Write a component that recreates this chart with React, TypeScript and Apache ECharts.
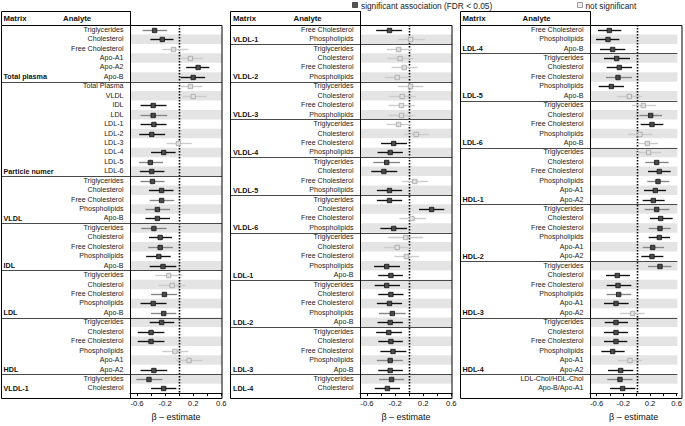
import React, { useEffect, useRef } from "react";
import * as echarts from "echarts";

// ---------- DATA ----------
const P1_ANALYTES = [
  "Triglycerides", "Cholesterol", "Free Cholesterol", "Apo-A1", "Apo-A2", "Apo-B",
  "Total Plasma", "VLDL", "IDL", "LDL", "LDL-1", "LDL-2", "LDL-3", "LDL-4", "LDL-5", "LDL-6",
  "Triglycerides", "Cholesterol", "Free Cholesterol", "Phospholipids", "Apo-B",
  "Triglycerides", "Cholesterol", "Free Cholesterol", "Phospholipids", "Apo-B",
  "Triglycerides", "Cholesterol", "Free Cholesterol", "Phospholipids", "Apo-B",
  "Triglycerides", "Cholesterol", "Free Cholesterol", "Phospholipids", "Apo-A1", "Apo-A2",
  "Triglycerides", "Cholesterol",
];
const P1_GROUPS: [string, number][] = [
  ["Total plasma", 6], ["Particle numer", 10], ["VLDL", 5], ["IDL", 5], ["LDL", 5], ["HDL", 6], ["VLDL-1", 2],
];
const P1_EST = [-0.35, -0.24, -0.08, 0.16, 0.27, 0.2, 0.16, 0.2, -0.37, -0.37, -0.36, -0.39, -0.01, -0.22, -0.41, -0.39, -0.38, -0.25, -0.25, -0.31, -0.31, -0.36, -0.27, -0.27, -0.29, -0.23, -0.15, -0.1, -0.21, -0.37, -0.22, -0.25, -0.4, -0.4, -0.06, 0.14, -0.36, -0.43, -0.22];
const P1_LO = [-0.52, -0.41, -0.24, 0.01, 0.1, 0.02, 0.02, 0.05, -0.55, -0.55, -0.55, -0.57, -0.18, -0.4, -0.57, -0.56, -0.55, -0.43, -0.42, -0.48, -0.48, -0.54, -0.43, -0.44, -0.47, -0.42, -0.34, -0.29, -0.4, -0.55, -0.4, -0.42, -0.59, -0.59, -0.24, -0.04, -0.55, -0.61, -0.4];
const P1_HI = [-0.17, -0.08, 0.13, 0.34, 0.43, 0.37, 0.33, 0.39, -0.18, -0.17, -0.18, -0.2, 0.18, -0.05, -0.23, -0.21, -0.21, -0.08, -0.07, -0.13, -0.13, -0.18, -0.1, -0.09, -0.12, -0.04, 0.05, 0.09, -0.03, -0.18, -0.04, -0.07, -0.21, -0.21, 0.13, 0.33, -0.17, -0.24, -0.04];
// b = significant (dark CI), g = significant (grey CI), n = not significant
const P1_SIG = ["g", "b", "n", "n", "b", "b", "n", "n", "b", "g", "b", "b", "n", "b", "g", "b", "g", "b", "g", "g", "b", "g", "b", "g", "b", "b", "n", "n", "g", "b", "g", "b", "b", "b", "n", "n", "b", "g", "b"];

const P2_ANALYTES = [
  "Free Cholesterol", "Phospholipids",
  "Triglycerides", "Cholesterol", "Free Cholesterol", "Phospholipids",
  "Triglycerides", "Cholesterol", "Free Cholesterol", "Phospholipids",
  "Triglycerides", "Cholesterol", "Free Cholesterol", "Phospholipids",
  "Triglycerides", "Cholesterol", "Free Cholesterol", "Phospholipids",
  "Triglycerides", "Cholesterol", "Free Cholesterol", "Phospholipids",
  "Triglycerides", "Cholesterol", "Free Cholesterol", "Phospholipids", "Apo-B",
  "Triglycerides", "Cholesterol", "Free Cholesterol", "Phospholipids", "Apo-B",
  "Triglycerides", "Cholesterol", "Free Cholesterol", "Phospholipids", "Apo-B",
  "Triglycerides", "Cholesterol",
];
const P2_GROUPS: [string, number][] = [
  ["VLDL-1", 2], ["VLDL-2", 4], ["VLDL-3", 4], ["VLDL-4", 4], ["VLDL-5", 4], ["VLDL-6", 4], ["LDL-1", 5], ["LDL-2", 5], ["LDL-3", 5], ["LDL-4", 2],
];
const P2_EST = [-0.28, 0.02, -0.15, -0.13, -0.07, -0.17, 0.02, -0.1, -0.11, -0.11, -0.15, 0.1, -0.22, -0.27, -0.32, -0.36, 0.08, -0.28, -0.28, 0.32, 0.04, -0.22, -0.05, -0.17, -0.04, -0.32, -0.26, -0.32, -0.26, -0.28, -0.24, -0.27, -0.29, -0.26, -0.23, -0.27, -0.27, -0.25, -0.31];
const P2_LO = [-0.47, -0.16, -0.32, -0.31, -0.25, -0.35, -0.16, -0.29, -0.29, -0.29, -0.32, -0.07, -0.4, -0.45, -0.51, -0.54, -0.1, -0.46, -0.46, 0.14, -0.14, -0.41, -0.3, -0.36, -0.21, -0.5, -0.44, -0.49, -0.44, -0.46, -0.43, -0.45, -0.47, -0.44, -0.41, -0.46, -0.44, -0.43, -0.49];
const P2_HI = [-0.1, 0.22, 0.03, 0.06, 0.12, 0.02, 0.2, 0.1, 0.08, 0.08, 0.03, 0.28, -0.03, -0.09, -0.13, -0.17, 0.27, -0.1, -0.1, 0.5, 0.24, -0.03, 0.2, 0.02, 0.14, -0.13, -0.09, -0.13, -0.08, -0.1, -0.05, -0.09, -0.1, -0.09, -0.04, -0.09, -0.09, -0.07, -0.13];
const P2_SIG = ["b", "n", "n", "n", "n", "n", "n", "n", "n", "n", "n", "n", "b", "b", "g", "b", "n", "b", "b", "b", "n", "b", "n", "n", "n", "b", "b", "b", "b", "b", "g", "b", "b", "b", "b", "g", "b", "g", "b"];

const P3_ANALYTES = [
  "Free Cholesterol", "Phospholipids", "Apo-B",
  "Triglycerides", "Cholesterol", "Free Cholesterol", "Phospholipids", "Apo-B",
  "Triglycerides", "Cholesterol", "Free Cholesterol", "Phospholipids", "Apo-B",
  "Triglycerides", "Cholesterol", "Free Cholesterol", "Phospholipids", "Apo-A1", "Apo-A2",
  "Triglycerides", "Cholesterol", "Free Cholesterol", "Phospholipids", "Apo-A1", "Apo-A2",
  "Triglycerides", "Cholesterol", "Free Cholesterol", "Phospholipids", "Apo-A1", "Apo-A2",
  "Triglycerides", "Cholesterol", "Free Cholesterol", "Phospholipids", "Apo-A1", "Apo-A2",
  "LDL-Chol/HDL-Chol", "Apo-B/Apo-A1",
];
const P3_GROUPS: [string, number][] = [
  ["LDL-4", 3], ["LDL-5", 5], ["LDL-6", 5], ["HDL-1", 6], ["HDL-2", 6], ["HDL-3", 6], ["HDL-4", 6], ["", 2],
];
const P3_EST = [-0.41, -0.43, -0.36, -0.3, -0.26, -0.28, -0.38, -0.11, 0.1, 0.21, 0.23, 0.05, 0.16, 0.18, 0.3, 0.34, 0.32, 0.28, 0.25, 0.3, 0.36, 0.35, 0.34, 0.24, 0.23, 0.35, -0.29, -0.28, -0.27, -0.31, -0.06, -0.31, -0.31, -0.31, -0.36, -0.1, -0.24, -0.25, -0.21];
const P3_LO = [-0.58, -0.61, -0.55, -0.49, -0.45, -0.46, -0.57, -0.3, -0.07, 0.04, 0.06, -0.13, -0.01, 0.0, 0.13, 0.17, 0.16, 0.11, 0.09, 0.12, 0.2, 0.18, 0.18, 0.09, 0.07, 0.17, -0.46, -0.45, -0.45, -0.49, -0.25, -0.48, -0.49, -0.49, -0.53, -0.28, -0.43, -0.44, -0.4];
const P3_HI = [-0.23, -0.26, -0.17, -0.1, -0.07, -0.07, -0.19, 0.08, 0.29, 0.38, 0.4, 0.24, 0.32, 0.37, 0.48, 0.51, 0.49, 0.44, 0.42, 0.49, 0.54, 0.51, 0.5, 0.41, 0.4, 0.52, -0.1, -0.08, -0.08, -0.12, 0.12, -0.13, -0.13, -0.14, -0.18, 0.08, -0.05, -0.06, -0.02];
const P3_SIG = ["b", "b", "b", "b", "b", "g", "b", "n", "n", "g", "b", "n", "n", "n", "g", "b", "g", "b", "b", "g", "b", "g", "b", "g", "b", "g", "b", "b", "g", "b", "n", "b", "b", "b", "b", "n", "b", "g", "b"];

const X_MIN = -0.7;
const X_MAX = 0.61;
const ZERO = 0;
const TICK_VALUES = [-0.6, -0.4, -0.2, 0, 0.2, 0.4, 0.6];
const LABEL_VALUES = [-0.6, -0.2, 0.2, 0.6];
const X_TITLE = "β – estimate";
const LEGEND_SIG = "significant association (FDR < 0.05)";
const LEGEND_NS = "not significant";
const SIG_CODES = ["n", "g", "b"];

// ---------- LAYOUT / STYLE ----------
const FONT = "'Liberation Sans', Arial, Helvetica, sans-serif";
const TOP = 25;
const HEIGHT = 373;
const GRID_W = 92;
const LAYOUT = [
  { tableLeft: 1.5, gridLeft: 130, matrixX: 3.5, analyteX: 63 },
  { tableLeft: 230.5, gridLeft: 360, matrixX: 233, analyteX: 293.5 },
  { tableLeft: 460.5, gridLeft: 590, matrixX: 462.5, analyteX: 522.5 },
];
const STATUS_STYLE: Record<string, { line: string; fill: string; stroke: string }> = {
  b: { line: "#111111", fill: "#4a4a4a", stroke: "#111111" },
  g: { line: "#858585", fill: "#4a4a4a", stroke: "#111111" },
  n: { line: "#cccccc", fill: "#e0e0e0", stroke: "#a3a3a3" },
};

const PANELS = [
  { analytes: P1_ANALYTES, groups: P1_GROUPS, est: P1_EST, lo: P1_LO, hi: P1_HI, sig: P1_SIG },
  { analytes: P2_ANALYTES, groups: P2_GROUPS, est: P2_EST, lo: P2_LO, hi: P2_HI, sig: P2_SIG },
  { analytes: P3_ANALYTES, groups: P3_GROUPS, est: P3_EST, lo: P3_LO, hi: P3_HI, sig: P3_SIG },
];

function buildOption() {
  const grid: any[] = [];
  const xAxis: any[] = [];
  const yAxis: any[] = [];
  const series: any[] = [];
  const graphic: any[] = [];

  PANELS.forEach((p, i) => {
    const L = LAYOUT[i];
    grid.push({ left: L.gridLeft, top: TOP, width: GRID_W, height: HEIGHT, show: false });

    xAxis.push({
      type: "value",
      gridIndex: i,
      min: X_MIN,
      max: X_MAX,
      splitLine: { show: false },
      axisLine: { show: true, lineStyle: { color: "#000", width: 1 } },
      axisTick: { show: true, customValues: TICK_VALUES, length: 3, lineStyle: { color: "#000" } },
      axisLabel: {
        customValues: LABEL_VALUES,
        fontSize: 7.7,
        color: "#111",
        margin: 6,
        fontFamily: FONT,
        formatter: (v: number) => v.toFixed(1),
      },
      name: X_TITLE,
      nameLocation: "middle",
      nameGap: 16,
      nameTextStyle: { fontSize: 9, color: "#111", fontFamily: FONT },
    });

    const groupLabels: string[] = [];
    const boundaries: number[] = [];
    let acc = 0;
    p.groups.forEach(([name, n], gi) => {
      for (let k = 0; k < n; k++) groupLabels.push(k === n - 1 ? name : "");
      acc += n;
      if (gi < p.groups.length - 1) boundaries.push(acc - 1);
    });

    const rowIds = p.analytes.map((_, k) => String(k));
    yAxis.push({
      type: "category",
      gridIndex: i,
      data: rowIds,
      inverse: true,
      axisLine: { show: false },
      axisTick: { show: false },
      splitLine: { show: false },
      axisLabel: {
        interval: 0,
        hideOverlap: false,
        fontSize: 7.1,
        color: "#222",
        margin: 6.5,
        fontFamily: FONT,
        formatter: (v: string) => p.analytes[Number(v)],
      },
    });
    yAxis.push({
      type: "category",
      gridIndex: i,
      data: rowIds,
      inverse: true,
      position: "left",
      axisLine: { show: false },
      axisTick: { show: false },
      splitLine: { show: false },
      axisLabel: {
        interval: 0,
        hideOverlap: false,
        align: "left",
        fontSize: 7.2,
        fontWeight: "bold",
        color: "#111",
        margin: L.gridLeft - L.matrixX,
        fontFamily: FONT,
        formatter: (v: string) => groupLabels[Number(v)],
      },
    });

    const yIdx = i * 2;
    const tableSpan = L.gridLeft - L.tableLeft;

    series.push({
      type: "custom",
      xAxisIndex: i,
      yAxisIndex: yIdx,
      silent: true,
      z: 1,
      data: p.analytes.map((_, k) => k).filter((k) => k % 2 === 1).map((k) => [ZERO, k]),
      encode: { x: 0, y: 1 },
      renderItem: (params: any, api: any) => {
        const cs = params.coordSys;
        const c = api.coord([ZERO, api.value(1)]);
        const h = api.size([0, 1])[1];
        return {
          type: "rect",
          shape: { x: cs.x, y: c[1] - h / 2, width: cs.width, height: h },
          style: { fill: "#e4e4e4" },
        };
      },
    });

    series.push({
      type: "custom",
      xAxisIndex: i,
      yAxisIndex: yIdx,
      silent: true,
      z: 2,
      data: [[ZERO, 0]],
      encode: { x: 0, y: 1 },
      renderItem: (params: any, api: any) => {
        const cs = params.coordSys;
        const x = Math.round(api.coord([api.value(0), 0])[0]) + 0.5;
        return {
          type: "line",
          shape: { x1: x, y1: cs.y, x2: x, y2: cs.y + cs.height },
          style: { stroke: "#000", lineWidth: 1.6, lineDash: [1.4, 1.6] },
        };
      },
    });

    series.push({
      type: "custom",
      xAxisIndex: i,
      yAxisIndex: yIdx,
      silent: true,
      clip: false,
      z: 3,
      data: boundaries.map((k) => [ZERO, k]),
      encode: { x: 0, y: 1 },
      renderItem: (params: any, api: any) => {
        const cs = params.coordSys;
        const c = api.coord([ZERO, api.value(1)]);
        const h = api.size([0, 1])[1];
        const y = Math.round(c[1] + h / 2) + 0.5;
        return {
          type: "line",
          shape: { x1: cs.x - tableSpan, y1: y, x2: cs.x + cs.width, y2: y },
          style: { stroke: "#4a4a4a", lineWidth: 1.1 },
        };
      },
    });

    series.push({
      type: "custom",
      xAxisIndex: i,
      yAxisIndex: yIdx,
      silent: true,
      z: 4,
      dimensions: ["est", "row", "lo", "hi", "status"],
      encode: { x: 0, y: 1 },
      data: p.est.map((e, k) => [e, k, p.lo[k], p.hi[k], SIG_CODES.indexOf(p.sig[k])]),
      renderItem: (params: any, api: any) => {
        const row = api.value(1);
        const pt = api.coord([api.value(0), row]);
        const l = api.coord([api.value(2), row]);
        const r = api.coord([api.value(3), row]);
        const st = STATUS_STYLE[SIG_CODES[api.value(4)]];
        const y = Math.round(pt[1]) + 0.5;
        return {
          type: "group",
          children: [
            { type: "line", shape: { x1: l[0], y1: y, x2: r[0], y2: y }, style: { stroke: st.line, lineWidth: 1.35 } },
            { type: "rect", shape: { x: pt[0] - 2.2, y: y - 2.2, width: 4.4, height: 4.4 }, style: { fill: st.fill, stroke: st.stroke, lineWidth: 0.8 } },
          ],
        };
      },
    });

    const right = L.gridLeft + GRID_W;
    graphic.push({
      type: "rect",
      z: 100,
      silent: true,
      shape: { x: L.tableLeft, y: TOP + 0.5, width: right - L.tableLeft, height: HEIGHT },
      style: { fill: "none", stroke: "#000", lineWidth: 1 },
    });
    graphic.push({
      type: "rect",
      z: 100,
      silent: true,
      shape: { x: L.tableLeft, y: 11.5, width: L.gridLeft + 0.5 - L.tableLeft, height: TOP - 11 },
      style: { fill: "none", stroke: "#000", lineWidth: 1 },
    });
    graphic.push({
      type: "line",
      z: 100,
      silent: true,
      shape: { x1: L.gridLeft + 0.5, y1: 11.5, x2: L.gridLeft + 0.5, y2: TOP + HEIGHT + 0.5 },
      style: { stroke: "#000", lineWidth: 1 },
    });
    graphic.push({
      type: "text",
      z: 100,
      silent: true,
      x: L.matrixX,
      y: 18.5,
      style: { text: "Matrix", font: `bold 7.8px ${FONT}`, fill: "#111", verticalAlign: "middle", align: "left" },
    });
    graphic.push({
      type: "text",
      z: 100,
      silent: true,
      x: L.analyteX,
      y: 18.5,
      style: { text: "Analyte", font: `bold 7.8px ${FONT}`, fill: "#111", verticalAlign: "middle", align: "left" },
    });
  });

  graphic.push({
    type: "rect",
    z: 100,
    silent: true,
    shape: { x: 352.5, y: 2.5, width: 5, height: 5 },
    style: { fill: "#555", stroke: "#333", lineWidth: 0.8 },
  });
  graphic.push({
    type: "text",
    z: 100,
    silent: true,
    x: 361,
    y: 5.5,
    style: { text: LEGEND_SIG, font: `8.3px ${FONT}`, fill: "#222", verticalAlign: "middle", align: "left" },
  });
  graphic.push({
    type: "rect",
    z: 100,
    silent: true,
    shape: { x: 577.5, y: 2.5, width: 5, height: 5 },
    style: { fill: "#eeeeee", stroke: "#888", lineWidth: 0.8 },
  });
  graphic.push({
    type: "text",
    z: 100,
    silent: true,
    x: 585.5,
    y: 5.5,
    style: { text: LEGEND_NS, font: `8.3px ${FONT}`, fill: "#222", verticalAlign: "middle", align: "left" },
  });

  return {
    animation: false,
    backgroundColor: "#ffffff",
    textStyle: { fontFamily: FONT },
    grid,
    xAxis,
    yAxis,
    series,
    graphic,
  };
}

export default function App() {
  const ref = useRef<HTMLDivElement>(null);
  useEffect(() => {
    if (!ref.current) return;
    const chart = echarts.init(ref.current, undefined, { renderer: "svg" });
    chart.setOption(buildOption() as any);
    return () => chart.dispose();
  }, []);
  return (
    <div
      ref={ref}
      style={{ position: "absolute", left: 0, top: 0, width: 685, height: 426, background: "#fff" }}
    />
  );
}
